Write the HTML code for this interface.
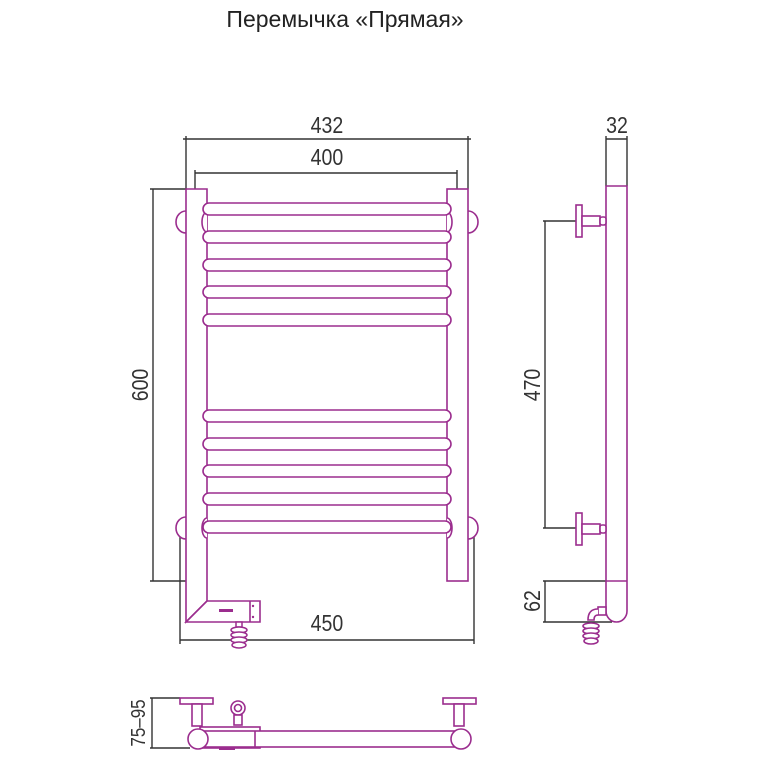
<!DOCTYPE html>
<html><head><meta charset="utf-8"><style>
html,body{margin:0;padding:0;background:#fff;}
svg{display:block}
text{font-family:"Liberation Sans",sans-serif;}
</style></head><body>
<svg width="762" height="762" viewBox="0 0 762 762" xmlns="http://www.w3.org/2000/svg">
<text x="345" y="27" font-size="23" text-anchor="middle" fill="#222">Перемычка «Прямая»</text>

<g stroke="#333" stroke-width="1.4" fill="none">
  <line x1="186" y1="136" x2="186" y2="189"/><line x1="468" y1="136" x2="468" y2="189"/>
  <line x1="183" y1="139" x2="471" y2="139"/>
  <line x1="195" y1="170" x2="195" y2="189"/><line x1="457" y1="170" x2="457" y2="189"/>
  <line x1="195" y1="173" x2="457" y2="173"/>
  <line x1="150" y1="189" x2="186" y2="189"/><line x1="150" y1="581" x2="207" y2="581"/>
  <line x1="153" y1="189" x2="153" y2="581"/>
  <line x1="180" y1="535" x2="180" y2="644"/><line x1="474" y1="535" x2="474" y2="644"/>
  <line x1="180" y1="640" x2="474" y2="640"/>
  <line x1="606" y1="136" x2="606" y2="186"/><line x1="627" y1="136" x2="627" y2="186"/>
  <line x1="606" y1="139" x2="627" y2="139"/>
  <line x1="543" y1="221" x2="576" y2="221"/><line x1="543" y1="528" x2="576" y2="528"/>
  <line x1="545" y1="221" x2="545" y2="528"/>
  <line x1="543" y1="581" x2="627" y2="581"/><line x1="543" y1="622" x2="612" y2="622"/>
  <line x1="545" y1="581" x2="545" y2="622"/>
  <line x1="150" y1="698" x2="180" y2="698"/><line x1="150" y1="748" x2="190" y2="748"/>
  <line x1="152" y1="698" x2="152" y2="748"/>
</g>
<g fill="#333" font-size="23">
  <text x="327" y="133" text-anchor="middle" transform="translate(327 0) scale(0.85 1) translate(-327 0)">432</text>
  <text x="327" y="165" text-anchor="middle" transform="translate(327 0) scale(0.85 1) translate(-327 0)">400</text>
  <text x="327" y="631" text-anchor="middle" transform="translate(327 0) scale(0.85 1) translate(-327 0)">450</text>
  <text x="617" y="133" text-anchor="middle" transform="translate(617 0) scale(0.85 1) translate(-617 0)">32</text>
  <text transform="translate(148 385) rotate(-90) scale(0.85 1)" text-anchor="middle">600</text>
  <text transform="translate(540 385) rotate(-90) scale(0.85 1)" text-anchor="middle">470</text>
  <text transform="translate(540 601) rotate(-90) scale(0.85 1)" text-anchor="middle">62</text>
  <text transform="translate(145 723) rotate(-90) scale(0.85 1)" text-anchor="middle" font-size="20">75–95</text>
</g>

<g stroke="#9b2d8e" stroke-width="1.6" fill="#fff">
  <path d="M186 211 A10 11 0 0 0 186 233"/><path d="M468 211 A10 11 0 0 1 468 233"/>
  <path d="M186 517 A10 11 0 0 0 186 539"/><path d="M468 517 A10 11 0 0 1 468 539"/>
  <rect x="447" y="189" width="21" height="392"/>
  <path d="M186 189 H207 V601 L186 622 Z"/>
  <path d="M207 212 A5 10 0 0 0 207 232"/><path d="M447 212 A5 10 0 0 1 447 232"/>
  <path d="M207 518 A5 10 0 0 0 207 538"/><path d="M447 518 A5 10 0 0 1 447 538"/>
  <g>
    <rect x="203" y="203" width="248" height="12" rx="6"/>
    <rect x="203" y="231" width="248" height="12" rx="6"/>
    <rect x="203" y="259" width="248" height="12" rx="6"/>
    <rect x="203" y="286" width="248" height="12" rx="6"/>
    <rect x="203" y="314" width="248" height="12" rx="6"/>
    <rect x="203" y="410" width="248" height="12" rx="6"/>
    <rect x="203" y="438" width="248" height="12" rx="6"/>
    <rect x="203" y="465" width="248" height="12" rx="6"/>
    <rect x="203" y="493" width="248" height="12" rx="6"/>
    <rect x="203" y="521" width="248" height="12" rx="6"/>
  </g>
  <path d="M207 601 H260 V622 H186 Z"/>
  <line x1="250" y1="601" x2="250" y2="622"/>
</g>
<g fill="#9b2d8e">
  <rect x="219" y="609" width="14" height="3"/>
  <circle cx="253" cy="606" r="1.2"/><circle cx="253" cy="617" r="1.2"/>
</g>
<g stroke="#9b2d8e" stroke-width="1.5" fill="#fff">
  <rect x="236" y="622" width="6" height="5"/>
  <ellipse cx="239" cy="630" rx="8" ry="3"/><ellipse cx="239" cy="635" rx="8" ry="3"/>
  <ellipse cx="239" cy="640" rx="8" ry="3"/><ellipse cx="239" cy="645" rx="7" ry="3"/>
</g>

<g stroke="#9b2d8e" stroke-width="1.6" fill="#fff">
  <path d="M606 186 H627 V611 A10.5 11 0 0 1 606 611 Z"/>
  <line x1="606" y1="581" x2="627" y2="581"/>
  <rect x="576" y="205" width="6" height="32"/>
  <rect x="582" y="216" width="18" height="10"/>
  <rect x="600" y="217" width="6" height="8" rx="2"/>
  <rect x="576" y="513" width="6" height="32"/>
  <rect x="582" y="524" width="18" height="10"/>
  <rect x="600" y="525" width="6" height="8" rx="2"/>
  <rect x="598" y="607" width="8" height="8"/>
  <path d="M598 609 Q588 609 588 620 L594 620 Q594 615 598 615"/>
  <ellipse cx="591" cy="626" rx="8" ry="3"/><ellipse cx="591" cy="631" rx="8" ry="3"/>
  <ellipse cx="591" cy="636" rx="8" ry="3"/><ellipse cx="591" cy="641" rx="7" ry="3"/>
</g>

<g stroke="#9b2d8e" stroke-width="1.6" fill="#fff">
  <rect x="180" y="698" width="33" height="6"/>
  <rect x="443" y="698" width="33" height="6"/>
  <rect x="192" y="704" width="10" height="22"/>
  <rect x="454" y="704" width="10" height="22"/>
  <rect x="200" y="727" width="60" height="21"/>
  <rect x="197" y="731" width="264" height="16"/>
  <line x1="255" y1="731" x2="255" y2="747"/>
  <circle cx="198" cy="739" r="10"/>
  <circle cx="461" cy="739" r="10"/>
  <circle cx="238" cy="708" r="7"/>
  <circle cx="238" cy="708" r="3.5"/>
  <rect x="234" y="715" width="8" height="10"/>
</g>
<rect x="219" y="748" width="16" height="2" fill="#9b2d8e"/>
</svg>
</body></html>
